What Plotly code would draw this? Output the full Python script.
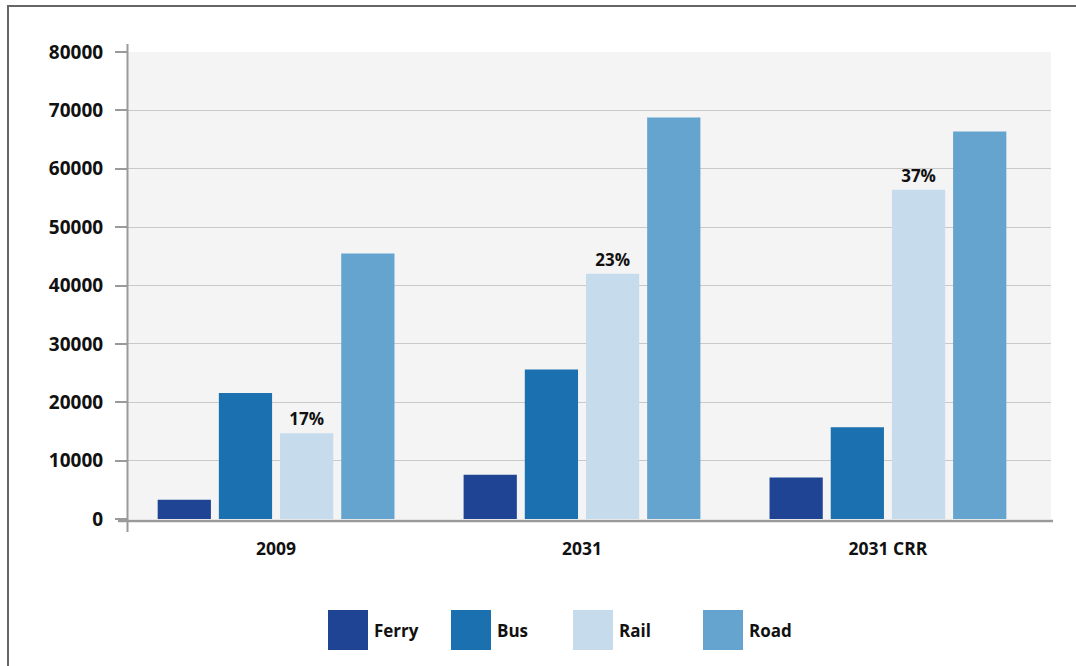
import plotly.graph_objects as go

# Trips by mode, per scenario
categories = ["2009", "2031", "2031 CRR"]
ferry = [3300, 7600, 7100]
bus = [21600, 25600, 15700]
rail = [14700, 42000, 56400]
road = [45500, 68800, 66400]
rail_share = ["17%", "23%", "37%"]
y_ticks = [0, 10000, 20000, 30000, 40000, 50000, 60000, 70000, 80000]
y_tick_labels = [str(v) for v in y_ticks]

series = [
    ("Ferry", ferry, "#1e4493"),
    ("Bus", bus, "#1b70b0"),
    ("Rail", rail, "#c6dcec"),
    ("Road", road, "#64a4cf"),
]

W, H = 1076, 666
L, R, T, B = 128, 25, 52, 147
PW, PH = W - L - R, H - T - B
FONT = "Open Sans"


def px(x):
    return (x - L) / PW


def py(y):
    return (H - B - y) / PH


fig = go.Figure()
for name, vals, color in series:
    kw = {}
    if name == "Rail":
        kw = dict(text=rail_share, textposition="outside",
                  textfont=dict(family=FONT, size=17, color="#111", weight="bold"),
                  cliponaxis=False)
    fig.add_trace(go.Bar(name=name, x=categories, y=vals,
                         marker=dict(color=color, line=dict(width=0)),
                         showlegend=False, **kw))

shapes = [
    # outer frame
    dict(type="rect", xref="paper", yref="paper",
         x0=px(8), x1=px(1120), y0=py(720), y1=py(6),
         line=dict(color="#666", width=2), fillcolor="rgba(0,0,0,0)", layer="below"),
    # axis lines
    dict(type="line", xref="paper", yref="paper",
         x0=px(118), x1=px(1053), y0=py(521), y1=py(521),
         line=dict(color="#9a9a9a", width=2.5)),
    dict(type="line", xref="paper", yref="paper",
         x0=px(127.5), x1=px(127.5), y0=py(532), y1=py(44),
         line=dict(color="#9a9a9a", width=2)),
]

annotations = []
legend_x = [328, 451, 573, 703]
for (name, _, color), lx in zip(series, legend_x):
    shapes.append(dict(type="rect", xref="paper", yref="paper",
                       x0=px(lx), x1=px(lx + 40), y0=py(650), y1=py(610),
                       fillcolor=color, line=dict(width=0)))
    annotations.append(dict(xref="paper", yref="paper", x=px(lx + 44), y=py(630),
                            text=name, showarrow=False, xanchor="left", yanchor="middle",
                            font=dict(family=FONT, size=17, color="#111", weight="bold")))

fig.update_layout(
    width=W, height=H,
    margin=dict(l=L, r=R, t=T, b=B),
    paper_bgcolor="white",
    plot_bgcolor="#f4f4f4",
    barmode="group",
    bargap=0.2,
    bargroupgap=0.13,
    shapes=shapes,
    annotations=annotations,
    xaxis=dict(range=[-0.484, 2.533], showline=False, showgrid=False, ticks="",
               tickfont=dict(family=FONT, size=17.5, color="#111", weight="bold"),
               ticklabelstandoff=17),
    yaxis=dict(range=[0, 80000], tickvals=y_ticks, ticktext=y_tick_labels,
               showline=False, showgrid=True, gridcolor="#c9c9c9", gridwidth=1,
               zeroline=False, ticks="outside", ticklen=12, tickcolor="#9a9a9a",
               tickwidth=2, ticklabelstandoff=8,
               tickfont=dict(family=FONT, size=19, color="#111", weight="bold")),
)

fig.write_html("out.html")
